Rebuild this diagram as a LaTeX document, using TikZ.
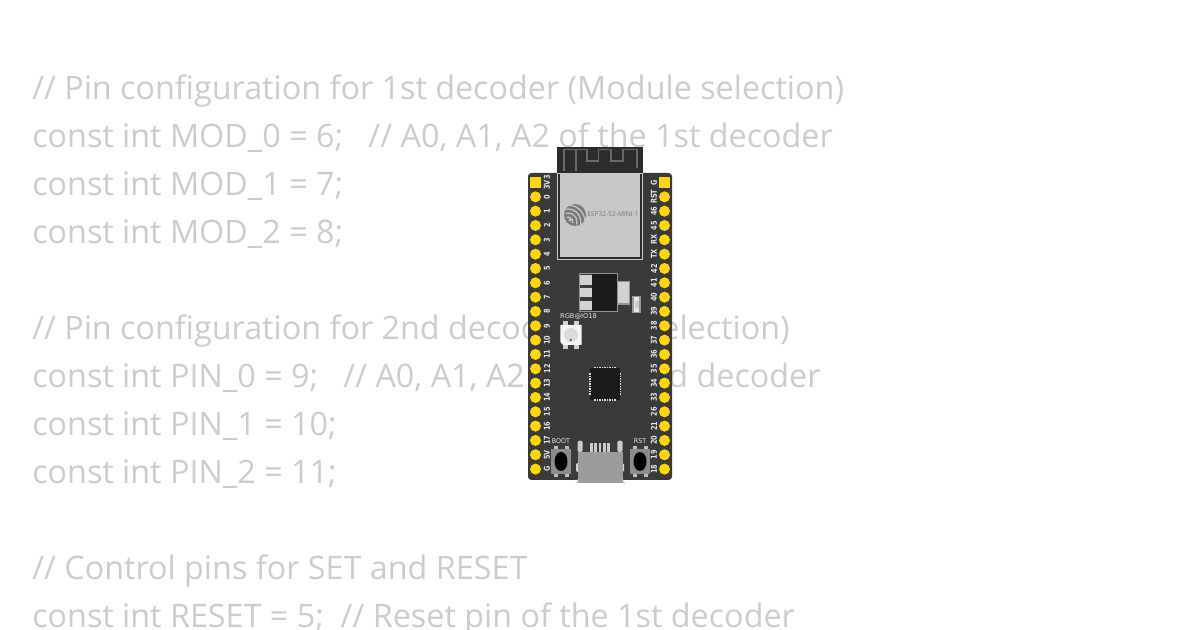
\documentclass[tikz,border=0pt]{standalone}
\usepackage{fontspec}
\setmainfont{Open Sans}
\newfontfamily\pinfont{DejaVu Sans}
\definecolor{codegray}{HTML}{CCCCCC}
\definecolor{boardc}{HTML}{3A3A3A}
\definecolor{pingold}{HTML}{FFD60A}
\definecolor{modc}{HTML}{C8C8C8}
\definecolor{antc}{HTML}{2C2C2C}
\definecolor{antline}{HTML}{6A6A6A}
\definecolor{padc}{HTML}{D2D2D2}
\definecolor{chipc}{HTML}{1B1B1B}
\definecolor{btnc}{HTML}{8C8C8C}
\definecolor{usbc}{HTML}{9C9C9C}
\newcommand{\pinfit}[1]{\scalebox{.8}[1]{#1}}
\tikzset{
 codeline/.style={anchor=base west,inner sep=0pt,text=codegray,font=\fontsize{24.24}{24.24}\selectfont},
 pinlabel/.style={inner sep=0pt,text=white!90!black,rotate=90,font=\pinfont\bfseries\fontsize{6.1}{6.1}\selectfont},
 silk/.style={inner sep=0pt,text=white!90!black,font=\pinfont\fontsize{5}{5}\selectfont},
 pad/.style={fill=padc,draw=none},
}
\begin{document}
\begin{tikzpicture}[x=0.75pt,y=-0.75pt]
\useasboundingbox (0,0) rectangle (1200,630);
\fill[white] (0,0) rectangle (1200,630);
\begin{scope}
\clip (0,0) rectangle (1200,630);
\node[codeline] (c1) at (32,100) {// Pin configuration for 1st decoder (Module selection)};
\node[codeline] (c2) at (32,148) {const int MOD\_0 = 6;\ \ \ // A0, A1, A2 of the 1st decoder};
\node[codeline] (c3) at (32,196) {const int MOD\_1 = 7;};
\node[codeline] (c4) at (32,244) {const int MOD\_2 = 8;};
\node[codeline] (c5) at (32,340) {// Pin configuration for 2nd decoder (Pin selection)};
\node[codeline] (c6) at (32,388) {const int PIN\_0 = 9;\ \ \ // A0, A1, A2 of the 2nd decoder};
\node[codeline] (c7) at (32,436) {const int PIN\_1 = 10;};
\node[codeline] (c8) at (32,484) {const int PIN\_2 = 11;};
\node[codeline] (c9) at (32,580) {// Control pins for SET and RESET};
\node[codeline] (c10) at (32,628) {const int RESET = 5;\ \ // Reset pin of the 1st decoder};
\end{scope}
% board
\fill[boardc,rounded corners=2.5pt] (528,173) rectangle (672,480);
% antenna part
\fill[antc] (557,147.5) rectangle (643,175);
\draw[antline,line width=1.1pt,line join=miter] (564,170) -- (564,149.5) -- (587,149.5) -- (587,161) -- (598.5,161) -- (598.5,149.5) -- (611,149.5) -- (611,161) -- (623,161) -- (623,149.5) -- (637,149.5) -- (637,168.5);
\draw[antline,line width=1.1pt] (576,170) -- (576,149.5);
\fill[olive!70!gray] (564,170) circle (1.1);
\fill[olive!70!gray] (576,170) circle (1.1);
% module
\fill[antc,draw=white!80!black,line width=0.7pt] (557.8,173) rectangle (642.2,259.7);
\fill[modc] (559.5,173) rectangle (640,257.5);
\begin{scope}
\fill[gray!95!black] (575,215) circle (11);
\begin{scope}
\clip (575,215) circle (11);
\draw[modc,line width=0.9pt] (568,222) ++(15:5) arc[start angle=15,end angle=-105,radius=5];
\draw[modc,line width=0.9pt] (568,222) ++(15:9) arc[start angle=15,end angle=-105,radius=9];
\draw[modc,line width=0.9pt] (568,222) ++(15:13) arc[start angle=15,end angle=-105,radius=13];
\draw[modc,line width=0.9pt] (568,222) ++(15:17) arc[start angle=15,end angle=-105,radius=17];
\fill[modc] (570,220) circle (1.6);
\end{scope}
\end{scope}
\node[inner sep=0pt,text=gray!95!black,font=\fontsize{5}{5}\selectfont] (modname) at (613,214.5) {ESP32-S2-MINI-1};
% pins
\foreach \lab [count=\i from 0] in {3V3,0,1,2,3,4,5,6,7,8,9,10,11,12,13,14,15,16,17,5V,G}{
  \pgfmathsetmacro{\yy}{182.5+14.33*\i}
  \ifnum\i=0
    \fill[pingold] (530.2,176.8) rectangle (540.8,187.8);
  \else
    \fill[pingold] (535.5,\yy) circle (5.5);
  \fi
  \node[pinlabel] (L\i) at (547,\yy) {\pinfit{\lab}};
}
\foreach \lab [count=\i from 0] in {G,RST,46,45,RX,TX,42,41,40,39,38,37,36,35,34,33,26,21,20,19,18}{
  \pgfmathsetmacro{\yy}{182.5+14.33*\i}
  \ifnum\i=0
    \fill[pingold] (659.2,176.8) rectangle (669.8,187.8);
  \else
    \fill[pingold] (664.5,\yy) circle (5.5);
  \fi
  \node[pinlabel] (R\i) at (654,\yy) {\pinfit{\lab}};
}
% regulator
\draw[gray!85!white,line width=0.6pt] (579.3,273.3) rectangle (617,311.6);
\fill[pad] (580,274.7) rectangle (592,284.7);
\fill[pad] (580,288) rectangle (592,297.3);
\fill[pad] (580,300.7) rectangle (592,310.3);
\fill[chipc] (592,273.6) rectangle (616.7,311.3);
\fill[gray!85!white] (617,280.7) rectangle (630,304.7);
\fill[pad] (617.5,282.3) rectangle (628.5,303);
\fill[gray!80!white] (632.3,295.8) rectangle (640.5,313);
\fill[white!90!black] (634,297) rectangle (639,312);
\fill[gray!40!white] (634.5,301) rectangle (638.5,308);
% LED
\node[silk] (rgb) at (578.5,316.5) {RGB@IO18};
\fill[pad] (563.3,321.3) rectangle (568,349);
\fill[pad] (574,321.3) rectangle (578.7,349);
\fill[white!96!black] (560.3,325) -- (581.7,325) -- (581.7,345) -- (563,345) -- (560.3,342) -- cycle;
\fill[white!86!black] (571,335) circle (7);
\fill[olive!75!black] (570.7,340) circle (1.4);
% MCU
\fill[chipc] (590,368) rectangle (620,400);
\foreach \k in {0,...,8}{
  \fill[white!85!black] ({595+2.5*\k-0.6},367) rectangle ({595+2.5*\k+0.6},368.5);
  \fill[white!85!black] ({595+2.5*\k-0.6},399.5) rectangle ({595+2.5*\k+0.6},401);
  \fill[white!85!black] (589,{374+2.5*\k-0.6}) rectangle (590.5,{374+2.5*\k+0.6});
  \fill[white!85!black] (619.5,{374+2.5*\k-0.6}) rectangle (621,{374+2.5*\k+0.6});
}
% buttons
\node[silk,font=\pinfont\fontsize{5}{5}\selectfont] (boot) at (561,441) {\scalebox{.95}[1]{BOOT}};
\node[silk,font=\pinfont\fontsize{5}{5}\selectfont] (rst) at (640,441) {\scalebox{.95}[1]{RST}};
\foreach \bx in {561,640}{
  \fill[padc!75!gray] (\bx-7.5,446.5) rectangle (\bx-3.5,477);
  \fill[padc!75!gray] (\bx+3.5,446.5) rectangle (\bx+7.5,477);
  \fill[btnc] (\bx-10,449) rectangle (\bx+10,474.5);
  \fill[black] (\bx,461.5) ellipse (6.5 and 9.5);
}
% USB
\foreach \k in {0,...,4}{
  \fill[padc!90!gray] ({590.3+4.1*\k},443) rectangle ({593.2+4.1*\k},452);
}
\fill[padc!90!gray,rounded corners=1.5pt] (577.5,440.7) rectangle (582.7,452);
\fill[padc!90!gray,rounded corners=1.5pt] (617.3,440.7) rectangle (622.7,452);
\fill[padc,rounded corners=1pt] (576,463) rectangle (579,472);
\fill[padc,rounded corners=1pt] (621,463) rectangle (624,472);
\fill[usbc] (577.7,451.7) rectangle (622.7,483);
\draw[padc,line width=0.8pt] (578,479.5) -- (576,484);
\draw[padc,line width=0.8pt] (622.5,479.5) -- (624.5,484);
\end{tikzpicture}
\end{document}
